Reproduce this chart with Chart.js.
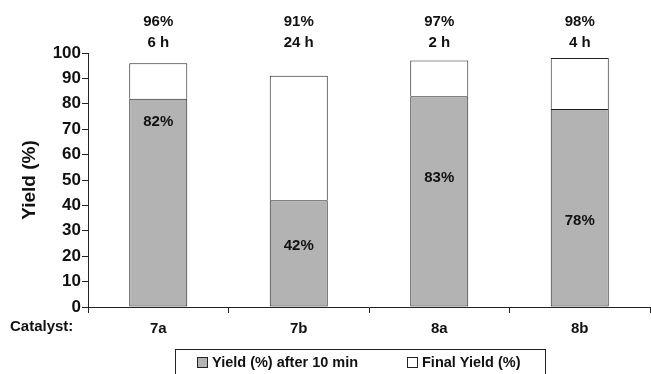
<!DOCTYPE html>
<html lang="en">
<head>
  <meta charset="UTF-8">
  <title>Catalyst yield</title>
  <script src="https://cdn.jsdelivr.net/npm/chart.js"></script>
  <style>
    body { margin: 0; background: #fff; }
  </style>
</head>
<body>
  <canvas id="grafik" width="651" height="374"></canvas>

  <script>
    // data
    const catalysts = ['7a', '7b', '8a', '8b'];
    const yield10min = [82, 42, 83, 78];
    const finalYield = [96, 91, 97, 98];
    const reactionTime = ['6 h', '24 h', '2 h', '4 h'];
    // height (in % units) where the 10-min label sits inside each bar
    const innerLabelAt = [73, 24, 51, 34];

    const seriesNames = ['Yield (%) after 10 min', 'Final Yield (%)'];
    const grey = '#b3b3b3';
    const edge = '#222';
    const boldFont = (size) => ({ family: '"Liberation Sans", Arial, sans-serif', size: size, weight: 'bold' });

    Chart.defaults.font.family = '"Liberation Sans", Arial, sans-serif';
    Chart.defaults.color = '#111';

    // labels, "Catalyst:" and the boxed legend
    const extras = {
      id: 'extras',
      afterDatasetsDraw(chart) {
        const { ctx } = chart;
        const x = chart.scales.x, y = chart.scales.y;
        ctx.save();
        ctx.fillStyle = '#111';
        ctx.textAlign = 'center';
        ctx.textBaseline = 'middle';
        ctx.font = 'bold 15px "Liberation Sans", Arial, sans-serif';
        catalysts.forEach((c, i) => {
          const cx = x.getPixelForValue(i);
          ctx.fillText(finalYield[i] + '%', cx, 22);
          ctx.fillText(reactionTime[i], cx, 43);
          ctx.fillText(yield10min[i] + '%', cx, y.getPixelForValue(innerLabelAt[i]));
        });
        ctx.textAlign = 'left';
        ctx.fillText('Catalyst:', 10, 327);

        // legend
        ctx.strokeStyle = edge;
        ctx.lineWidth = 1;
        ctx.strokeRect(175.5, 349.5, 370, 30);
        const items = [{ x: 197, fill: grey }, { x: 407, fill: '#fff' }];
        ctx.font = 'bold 14.5px "Liberation Sans", Arial, sans-serif';
        items.forEach((it, i) => {
          ctx.fillStyle = it.fill;
          ctx.fillRect(it.x + 0.5, 357.5, 10, 10);
          ctx.strokeRect(it.x + 0.5, 357.5, 10, 10);
          ctx.fillStyle = '#111';
          ctx.fillText(seriesNames[i], it.x + 15, 363);
        });
        ctx.restore();
      }
    };

    const ctx = document.getElementById('grafik').getContext('2d');
    const chart = new Chart(ctx, {
      type: 'bar',
      data: {
        labels: catalysts,
        datasets: [{
          label: seriesNames[0],
          data: yield10min,
          backgroundColor: grey,
          borderColor: edge,
          borderWidth: 1,
          borderSkipped: false
        }, {
          label: seriesNames[1],
          data: finalYield.map((v, i) => v - yield10min[i]),
          backgroundColor: '#fff',
          borderColor: edge,
          borderWidth: 1,
          borderSkipped: 'start'
        }]
      },
      options: {
        responsive: false,
        animation: false,
        layout: { padding: { top: 53, right: 1, bottom: 0, left: 0 } },
        datasets: { bar: { categoryPercentage: 1, barPercentage: 0.413 } },
        plugins: {
          legend: { display: false },
          tooltip: { enabled: false }
        },
        scales: {
          x: {
            stacked: true,
            grid: { offset: true, drawOnChartArea: false, tickLength: 6, color: edge },
            border: { color: edge, width: 1 },
            ticks: { font: boldFont(15), padding: 7, color: '#111' },
            afterFit(s) { s.height = 67; }
          },
          y: {
            stacked: true,
            min: 0,
            max: 100,
            grid: { drawOnChartArea: false, tickLength: 6, color: edge },
            border: { color: edge, width: 1 },
            ticks: { stepSize: 10, font: boldFont(17), padding: 1, color: '#111' },
            title: { display: true, text: 'Yield (%)', font: boldFont(19), color: '#111', padding: { top: 18, bottom: 0 } },
            afterFit(s) { s.width = 88; }
          }
        }
      },
      plugins: [extras]
    });
  </script>
</body>
</html>
